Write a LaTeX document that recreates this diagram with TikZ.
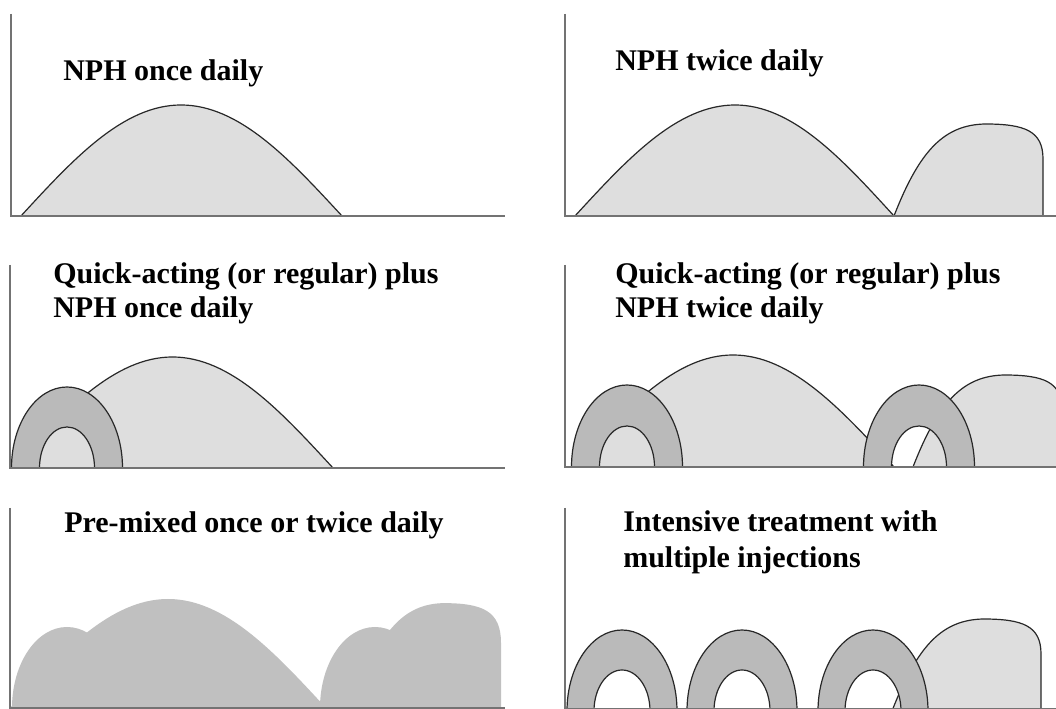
\documentclass[tikz,border=0pt]{standalone}
\usepackage{fontspec}
\setmainfont{Liberation Serif}
\definecolor{axisgray}{RGB}{115,115,115}
\definecolor{nphfill}{RGB}{222,222,222}
\definecolor{ringfill}{RGB}{186,186,186}
\definecolor{mixfill}{RGB}{192,192,192}
\definecolor{edgecol}{RGB}{40,40,40}
% half-ellipse arch: centre x, base y, x radius, y radius
\newcommand\archpath[4]{({#1-#3},#2) .. controls ({#1-#3},{#2+0.5523*#4}) and ({#1-0.5523*#3},{#2+#4}) .. (#1,{#2+#4}) .. controls ({#1+0.5523*#3},{#2+#4}) and ({#1+#3},{#2+0.5523*#4}) .. ({#1+#3},#2) -- cycle}
% second NPH dose: start x, base y, height factor
\newcommand\nphtwopath[3]{(#1,#2) .. controls ({#1+26},{#2+67*#3}) and ({#1+51},{#2+91*#3}) .. ({#1+91},{#2+92*#3}) .. controls ({#1+131},{#2+92*#3}) and ({#1+149},{#2+85*#3}) .. ({#1+149},{#2+57*#3}) -- ({#1+149},#2) -- cycle}
\begin{document}
\begin{tikzpicture}[x=0.75pt,y=0.75pt,
  axisline/.style={draw=axisgray, line width=1.4pt},
  nph/.style={fill=nphfill, draw=edgecol, line width=0.9pt, line join=round},
  ring/.style={fill=ringfill, draw=edgecol, line width=0.9pt, even odd rule},
  mix/.style={fill=mixfill},
  title/.style={font=\fontsize{22.5}{25.5}\selectfont\bfseries, inner sep=0pt, align=left, text=black}]
\useasboundingbox[fill=white] (0,0) rectangle (1056,709);

% ---------- panel 1: NPH once daily
\path[nph] (21,493) sin (181,604) cos (342,493) -- cycle;
\draw[axisline] (11,695) -- (11,493) -- (505,493);
\node[title, anchor=base west] (t1) at (63,628) {NPH once daily};

% ---------- panel 2: NPH twice daily
\path[nph] (575,493) sin (735,604) cos (894,493) -- cycle;
\path[nph] \nphtwopath{894}{493}{1};
\draw[axisline] (565,695) -- (565,493) -- (1056,493);
\node[title, anchor=base west] (t2) at (615,638) {NPH twice daily};

% ---------- panel 3: quick-acting plus NPH once daily
\path[nph] (12,241) sin (172.5,352) cos (333,241) -- cycle;
\path[ring] \archpath{67}{241}{55.5}{81} \archpath{67}{241}{27.5}{41};
\draw[axisline] (10,444) -- (10,241) -- (505,241);
\node[title, anchor=north west] (t3) at (53,447) {Quick-acting (or regular) plus\\NPH once daily};

% ---------- panel 4: quick-acting plus NPH twice daily
\path[nph] (573,242) sin (733,354) cos (894,242) -- cycle;
\path[nph] \nphtwopath{913}{242}{1};
\path[ring] \archpath{627}{242}{55.5}{82} \archpath{627}{242}{27.5}{41};
\path[ring] \archpath{919}{242}{55.5}{82} \archpath{919}{242}{27.5}{41};
\draw[axisline] (565,444) -- (565,242) -- (1056,242);
\node[title, anchor=north west] (t4) at (615,447) {Quick-acting (or regular) plus\\NPH twice daily};

% ---------- panel 5: pre-mixed
\fill[mix] \archpath{67}{1}{55}{81};
\fill[mix] (10,1) sin (168,110) cos (326,1) -- cycle;
\fill[mix] \archpath{375}{1}{55}{81};
\fill[mix] \nphtwopath{352}{1}{1.14};
\draw[axisline] (10,201) -- (10,1) -- (505,1);
\node[title, anchor=base west] (t5) at (64,176) {Pre-mixed once or twice daily};

% ---------- panel 6: intensive treatment
\path[nph] \nphtwopath{892}{-2}{1};
\path[ring] \archpath{622}{-2}{55}{81} \archpath{622}{-2}{28}{41};
\path[ring] \archpath{742}{-2}{55}{81} \archpath{742}{-2}{28}{41};
\path[ring] \archpath{873}{-2}{55}{81} \archpath{873}{-2}{28}{41};
\draw[axisline] (565,201) -- (565,0) -- (1056,0);
\node[title, anchor=north west, font=\fontsize{22.5}{27}\selectfont\bfseries] (t6) at (623,199) {Intensive treatment with\\multiple injections};
\end{tikzpicture}
\end{document}
